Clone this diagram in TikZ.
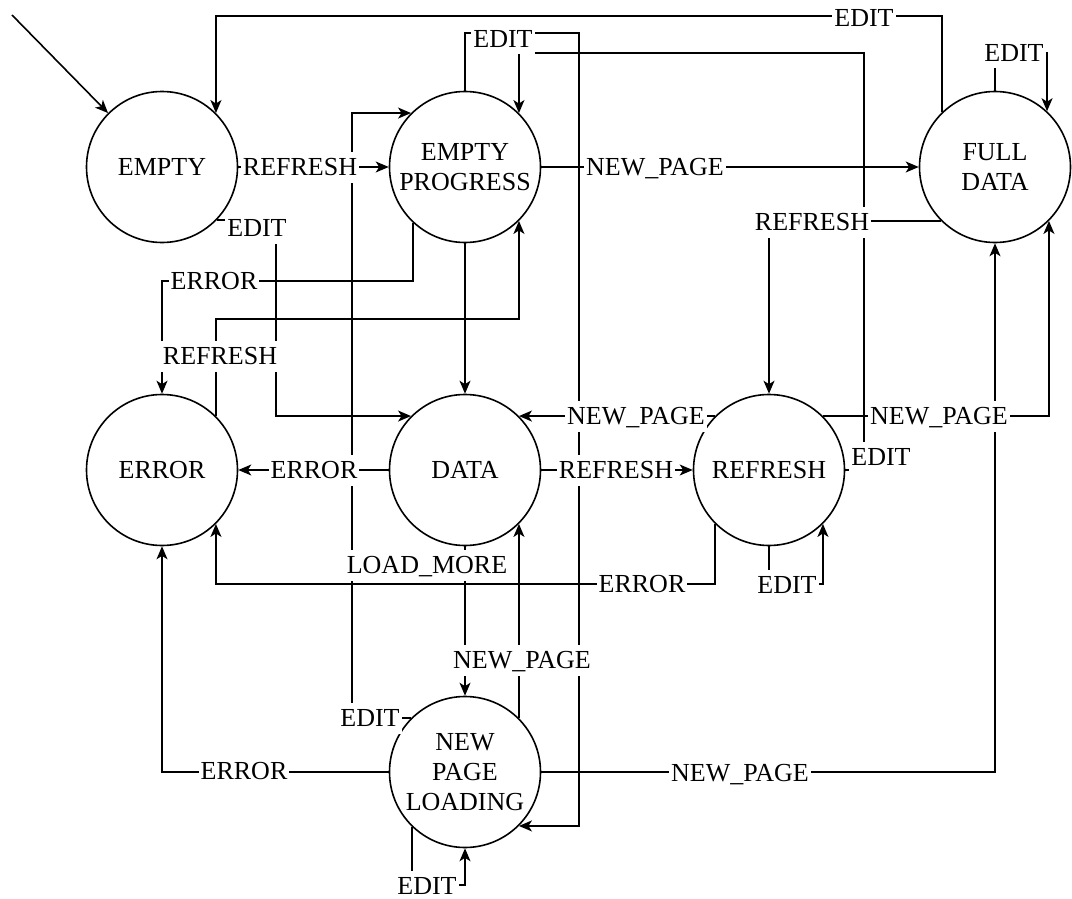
\documentclass[tikz,border=0pt]{standalone}
\usepackage{fontspec}
\setmainfont{Liberation Serif}
\usetikzlibrary{arrows.meta}
\begin{document}
\begin{tikzpicture}[x=1pt,y=-1pt,
  every node/.style={font=\fontsize{26}{30}\selectfont},
  state/.style={circle,draw,line width=1.6pt,minimum size=151pt,inner sep=0pt,align=center,fill=white},
  lbl/.style={fill=white,inner xsep=2pt,inner ysep=7pt,text height=17pt,text depth=0pt},
  conn/.style={line width=1.6pt},
  arr/.style={conn,-{Stealth[length=13pt,width=11pt,inset=3.5pt]}}]
\useasboundingbox (0,0) rectangle (1072,899);
% states
\node[state] (empty) at (162,167) {EMPTY};
\node[state] (ep) at (465,167) {EMPTY\\PROGRESS};
\node[state] (full) at (995,167) {FULL\\DATA};
\node[state] (error) at (162,470) {ERROR};
\node[state] (data) at (465,470) {DATA};
\node[state] (ref) at (769,470) {REFRESH};
\node[state] (npl) at (465,772) {NEW\\PAGE\\LOADING};
% helper coordinates
\coordinate (s0) at (12,15);
\coordinate (ytop) at (0,16);
\coordinate (a1) at (579,33);
\coordinate (b1) at (864,53);
\coordinate (f1) at (0,53);
\coordinate (d1) at (276,300);
\coordinate (e1) at (0,281);
\coordinate (r1) at (0,319);
\coordinate (c352) at (352,400);
\coordinate (y584) at (0,584);
\coordinate (y885) at (0,885);
% connectors
\draw[arr] (s0) -- (empty.135);
\draw[arr] (full.134) -- (full.134 |- ytop) -- (empty.45 |- ytop) -- (empty.45);
\draw[arr] (ep.north) |- (a1) -- (a1 |- npl.-45) -- (npl.-45);
\draw[arr] (ref.east) -| (b1) -| (ep.45);
\draw[arr] (full.north) |- (full.47 |- f1) -- (full.47);
\draw[arr] (empty.east) -- (ep.west);
\draw[arr] (ep.east) -- (full.west);
\draw[arr] (empty.-44) -| (d1) |- (data.135);
\draw[arr] (ep.-133) |- (error.north |- e1) -- (error.north);
\draw[arr] (error.45) |- (ep.-45 |- r1) -- (ep.-45);
\draw[arr] (ep.south) -- (data.north);
\draw[arr] (full.-135) -| (ref.north);
\draw[arr] (ref.135) -- (data.45);
\draw[arr] (ref.45) -| (full.-45);
\draw[arr] (data.west) -- (error.east);
\draw[arr] (data.east) -- (ref.west);
\draw[arr] (data.south) -- (npl.north);
\draw[arr] (npl.45) -- (data.-45);
\draw[arr] (npl.135) -| (c352) |- (ep.135);
\draw[arr] (npl.west) -| (error.south);
\draw[arr] (npl.east) -| (full.south);
\draw[arr] (npl.-134) |- (npl.south |- y885) -- (npl.south);
\draw[arr] (ref.south) |- (ref.-45 |- y584) -- (ref.-45);
\draw[arr] (ref.-135) |- (error.-45 |- y584) -- (error.-45);
% labels
\node[lbl] (l1) at (864,18) {EDIT};
\node[lbl] (l2) at (503,39) {EDIT};
\node[lbl] (l3) at (1014,53) {EDIT};
\node[lbl] (l4) at (300,167) {REFRESH};
\node[lbl] (l5) at (655,167) {NEW\_PAGE};
\node[lbl] (l6) at (257,228) {EDIT};
\node[lbl] (l7) at (812,222) {REFRESH};
\node[lbl] (l8) at (214,281) {ERROR};
\node[lbl,inner xsep=3pt] (l9) at (220,356) {REFRESH};
\node[lbl] (l10) at (636,416) {NEW\_PAGE};
\node[lbl] (l11) at (939,416) {NEW\_PAGE};
\node[lbl] (l12) at (881,457) {EDIT};
\node[lbl] (l13) at (314,470) {ERROR};
\node[lbl] (l14) at (616,470) {REFRESH};
\node[lbl] (l15) at (427,565) {LOAD\_MORE};
\node[lbl] (l16) at (642,584) {ERROR};
\node[lbl] (l17) at (787,585) {EDIT};
\node[lbl] (l18) at (522,660) {NEW\_PAGE};
\node[lbl] (l19) at (370,718) {EDIT};
\node[lbl] (l20) at (244,771) {ERROR};
\node[lbl] (l21) at (740,773) {NEW\_PAGE};
\node[lbl] (l22) at (427,886) {EDIT};
\end{tikzpicture}
\end{document}
